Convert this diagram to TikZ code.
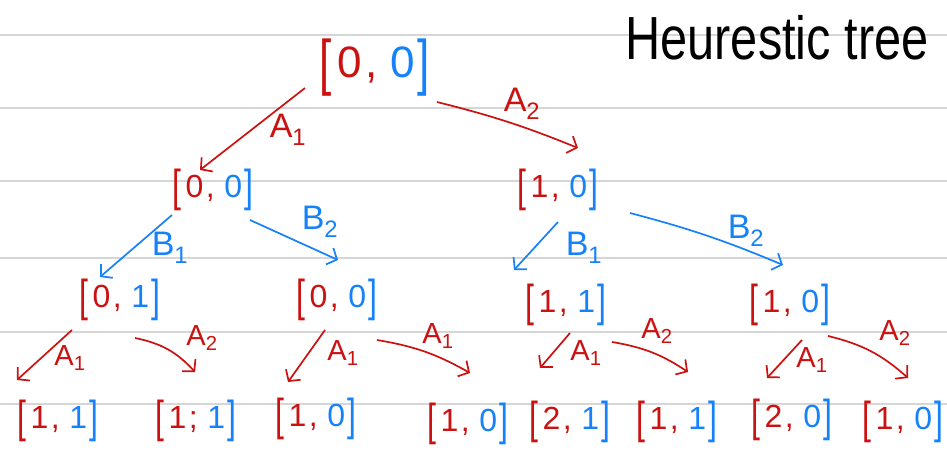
\documentclass[tikz,border=0pt]{standalone}
\usepackage{fontspec}
\setmainfont{Liberation Sans}
\usepackage{graphicx}
\usetikzlibrary{arrows.meta}

\definecolor{inkred}{RGB}{204,17,17}
\definecolor{inkblue}{RGB}{22,130,250}
\definecolor{ruling}{RGB}{214,214,214}

% tall bracket, re-centred on the digits
\newcommand{\tallbracket}[1]{\raisebox{-0.14em}{\scalebox{1}[1.4]{#1}}}
% a state [a, b]: first entry red, second entry blue
\newcommand{\statepair}[3][,]{{\color{inkred}\tallbracket{[}\hspace{0.12em}#2\hspace{0.08em}#1}\hspace{0.3em}{\color{inkblue}#3\hspace{0.06em}\tallbracket{]}}}

\tikzset{
  state/.style={inner sep=0pt, font=\fontsize{32}{36}\selectfont},
  rootstate/.style={state, font=\fontsize{44}{48}\selectfont},
  tip/.style={-{Straight Barb[length=8pt,width=18pt]}},
  redarr/.style={draw=inkred, line width=1.7pt, tip},
  bluearr/.style={draw=inkblue, line width=1.7pt, tip},
  lab/.style={inner sep=0pt, font=\fontsize{34}{36}\selectfont},
  smalllab/.style={inner sep=0pt, font=\fontsize{29}{32}\selectfont},
  rule/.style={draw=ruling, line width=2pt}
}

\begin{document}
\begin{tikzpicture}[x=1pt,y=-1pt]
  \fill[white] (0,0) rectangle (947,452);
  \useasboundingbox (0,0) rectangle (947,452);

  % ruled paper
  \foreach \yy in {35,108,181,258,332,404}
    \draw[rule] (0,\yy) -- (947,\yy);

  % title
  \node[inner sep=0pt, font=\fontsize{58}{60}\selectfont] (title) at (777,38)
    {\scalebox{0.84}[1.05]{Heurestic tree}};

  % states
  \node[rootstate] (r)   at (375,68)  {\statepair{0}{0}};
  \node[state]     (l)   at (213,190) {\statepair{0}{0}};
  \node[state]     (rt)  at (558,190) {\statepair{1}{0}};
  \node[state]     (la)  at (120,300) {\statepair{0}{1}};
  \node[state]     (lb)  at (337,300) {\statepair{0}{0}};
  \node[state]     (ra)  at (566,305) {\statepair{1}{1}};
  \node[state]     (rb)  at (790,305) {\statepair{1}{0}};
  \node[state]     (l1)  at (58,421)  {\statepair{1}{1}};
  \node[state]     (l2)  at (196,421) {\statepair[;]{1}{1}};
  \node[state]     (l3)  at (316,419) {\statepair{1}{0}};
  \node[state]     (l4)  at (468,424) {\statepair{1}{0}};
  \node[state]     (l5)  at (570,422) {\statepair{2}{1}};
  \node[state]     (l6)  at (677,422) {\statepair{1}{1}};
  \node[state]     (l7)  at (792,420) {\statepair{2}{0}};
  \node[state]     (l8)  at (903,422) {\statepair{1}{0}};

  % level 1
  \draw[redarr] ([shift={(-70,20)}]r.center) -- ([shift={(-13,-20)}]l.center);
  \node[lab, text=inkred] (ra1) at (288,130) {A\textsubscript{1}};
  \draw[redarr] ([shift={(62,34)}]r.center) to[bend left=4] ([shift={(20,-42)}]rt.center);
  \node[lab, text=inkred] (ra2) at (522,104) {A\textsubscript{2}};

  % level 2
  \draw[bluearr] ([shift={(-41,25)}]l.center) -- ([shift={(-20,-23)}]la.center);
  \node[lab, text=inkblue] (lb1) at (170,248) {B\textsubscript{1}};
  \draw[bluearr] ([shift={(37,30)}]l.center) -- ([shift={(1,-40)}]lb.center);
  \node[lab, text=inkblue] (lb2) at (320,222) {B\textsubscript{2}};
  \draw[bluearr] ([shift={(0,32)}]rt.center) -- ([shift={(-52,-35)}]ra.center);
  \node[lab, text=inkblue] (rb1) at (584,248) {B\textsubscript{1}};
  \draw[bluearr] ([shift={(72,23)}]rt.center) to[bend left=4] ([shift={(-7,-40)}]rb.center);
  \node[lab, text=inkblue] (rb2) at (746,231) {B\textsubscript{2}};

  % level 3
  \draw[redarr] ([shift={(-48,30)}]la.center) -- ([shift={(-41,-41)}]l1.center);
  \node[smalllab, text=inkred] (a11) at (70,358) {A\textsubscript{1}};
  \draw[redarr] ([shift={(15,38)}]la.center) to[bend left=18] ([shift={(-1,-49)}]l2.center);
  \node[smalllab, text=inkred] (a12) at (202,338) {A\textsubscript{2}};

  \draw[redarr] ([shift={(-12,30)}]lb.center) -- ([shift={(-28,-37)}]l3.center);
  \node[smalllab, text=inkred] (a21) at (343,353) {A\textsubscript{1}};
  \draw[redarr] ([shift={(40,40)}]lb.center) to[bend left=10] ([shift={(2,-51)}]l4.center);
  \node[smalllab, text=inkred] (a22) at (438,336) {A\textsubscript{1}};

  \draw[redarr] ([shift={(4,28)}]ra.center) -- ([shift={(-30,-54)}]l5.center);
  \node[smalllab, text=inkred] (a31) at (586,353) {A\textsubscript{1}};
  \draw[redarr] ([shift={(46,37)}]ra.center) to[bend left=12] ([shift={(11,-50)}]l6.center);
  \node[smalllab, text=inkred] (a32) at (657,331) {A\textsubscript{2}};

  \draw[redarr] ([shift={(12,35)}]rb.center) -- ([shift={(-25,-42)}]l7.center);
  \node[smalllab, text=inkred] (a41) at (812,360) {A\textsubscript{1}};
  \draw[redarr] ([shift={(38,31)}]rb.center) to[bend left=14] ([shift={(5,-44)}]l8.center);
  \node[smalllab, text=inkred] (a42) at (895,333) {A\textsubscript{2}};
\end{tikzpicture}
\end{document}
